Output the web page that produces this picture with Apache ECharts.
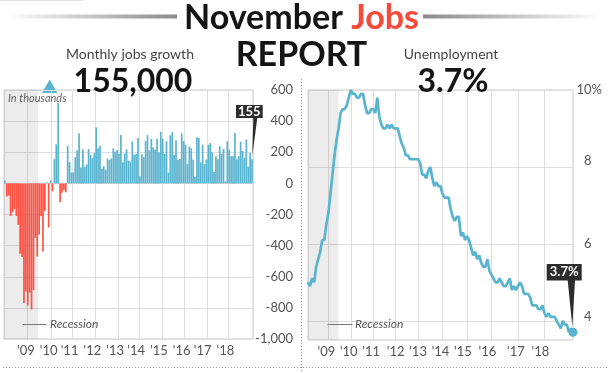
<!DOCTYPE html>
<html>
<head>
<meta charset="utf-8">
<script src="https://cdn.jsdelivr.net/npm/echarts@6/dist/echarts.min.js"></script>
<style>
html,body{margin:0;padding:0;background:#fff;}
#chart{width:608px;height:373px;}
</style>
</head>
<body>
<div id="chart"></div>
<script>
// ---------- DATA ----------
const monthNames = ['Jan','Feb','Mar','Apr','May','Jun','Jul','Aug','Sep','Oct','Nov','Dec'];
const startYear = 2008;
const endYear = 2018;
const endMonthIndex = 10; // Nov 2018

// Monthly change in nonfarm payrolls, thousands (Jan 2008 - Nov 2018)
const jobs2008 = [17, -84, -78, -210, -185, -165, -209, -266, -452, -473, -769, -695];
const jobs2009 = [-785, -703, -810, -686, -351, -470, -329, -212, -438, -178, 7, -283];
const jobs2010 = [18, -50, 156, 251, 516, -122, -61, -42, -57, 241, 137, 71];
const jobs2011 = [70, 168, 212, 322, 102, 217, 106, 122, 221, 183, 164, 196];
const jobs2012 = [360, 226, 243, 96, 110, 88, 160, 150, 161, 225, 203, 214];
const jobs2013 = [190, 311, 135, 192, 218, 146, 140, 269, 185, 189, 291, 45];
const jobs2014 = [187, 168, 272, 310, 213, 286, 232, 218, 286, 200, 331, 286];
const jobs2015 = [190, 271, 70, 309, 329, 182, 277, 150, 157, 321, 272, 249];
const jobs2016 = [126, 237, 225, 153, 43, 297, 291, 135, 249, 124, 154, 247];
const jobs2017 = [259, 200, 73, 175, 155, 239, 190, 221, 14, 271, 216, 175];
const jobs2018 = [176, 324, 155, 175, 268, 208, 165, 282, 108, 196, 155];

// Unemployment rate, percent (Jan 2008 - Nov 2018)
const unemp2008 = [5.0, 4.9, 5.1, 5.0, 5.4, 5.6, 5.8, 6.1, 6.1, 6.5, 6.8, 7.3];
const unemp2009 = [7.8, 8.3, 8.7, 9.0, 9.4, 9.5, 9.5, 9.6, 9.8, 10.0, 9.9, 9.9];
const unemp2010 = [9.8, 9.8, 9.9, 9.9, 9.6, 9.4, 9.4, 9.5, 9.5, 9.4, 9.8, 9.3];
const unemp2011 = [9.1, 9.0, 9.0, 9.1, 9.0, 9.1, 9.0, 9.0, 9.0, 8.8, 8.6, 8.5];
const unemp2012 = [8.3, 8.3, 8.2, 8.2, 8.2, 8.2, 8.2, 8.1, 7.8, 7.8, 7.7, 7.9];
const unemp2013 = [8.0, 7.7, 7.5, 7.6, 7.5, 7.5, 7.3, 7.2, 7.2, 7.2, 6.9, 6.7];
const unemp2014 = [6.6, 6.7, 6.7, 6.2, 6.3, 6.1, 6.2, 6.1, 5.9, 5.7, 5.8, 5.6];
const unemp2015 = [5.7, 5.5, 5.4, 5.4, 5.6, 5.3, 5.2, 5.1, 5.0, 5.0, 5.1, 5.0];
const unemp2016 = [4.9, 4.9, 5.0, 5.1, 4.8, 4.9, 4.8, 4.9, 5.0, 4.9, 4.7, 4.7];
const unemp2017 = [4.7, 4.6, 4.4, 4.4, 4.4, 4.3, 4.3, 4.4, 4.2, 4.1, 4.2, 4.1];
const unemp2018 = [4.1, 4.1, 4.0, 3.9, 3.8, 4.0, 3.9, 3.9, 3.7, 3.8, 3.7];

// Axis tick labels
const yearLabels = ["'09", "'10", "'11", "'12", "'13", "'14", "'15", "'16", "'17", "'18"];
const jobsTicks = [-1000, -800, -600, -400, -200, 0, 200, 400, 600];
const unempTicks = [4, 6, 8, 10];

// Recession period (as shaded in each panel)
const recessionJobs = ['Jan 2008', 'Jun 2009'];
const recessionUnemp = ['Jan 2008', 'Apr 2009'];

// ---------- BUILD ----------
const months = [];
for (let y = startYear; y <= endYear; y++) {
  for (let m = 0; m < 12; m++) {
    if (y === endYear && m > endMonthIndex) break;
    months.push(monthNames[m] + ' ' + y);
  }
}
const jobs = [].concat(jobs2008, jobs2009, jobs2010, jobs2011, jobs2012, jobs2013,
  jobs2014, jobs2015, jobs2016, jobs2017, jobs2018);
const unemp = [].concat(unemp2008, unemp2009, unemp2010, unemp2011, unemp2012, unemp2013,
  unemp2014, unemp2015, unemp2016, unemp2017, unemp2018);

const lastIdx = months.length - 1;
const lastJobs = jobs[jobs.length - 1];
const lastUnemp = unemp[unemp.length - 1];

// positions (category indices) of year grid lines and labels, as drawn in the graphic
const leftLineIdx = [12, 25, 36, 48, 60, 71, 83, 95, 107, 118];
const leftLabelIdx = [11, 23, 34, 46, 58, 69, 81, 93, 104, 116];
const rightLineIdx = [10, 21, 32, 43, 54, 66, 78, 90, 103, 116];
const rightLabelIdx = [9, 20, 31, 43, 54, 65, 76, 88, 102, 114];

const BLUE = '#5bb4cf';
const RED = '#ff5142';
const FONT = 'Lato, "Noto Sans", sans-serif';
const GRIDC = '#dedede';
const FRAMEC = '#c9c9c9';
const LABELC = '#555';

function fmtThousands(v) {
  const s = Math.abs(v).toString().replace(/\B(?=(\d{3})+(?!\d))/g, ',');
  return (v < 0 ? '-' : '') + s;
}

// vertical nudge (px, upward) of unemployment tick labels as placed in the graphic
const unempLabelLift = {4: 4, 6: 0, 8: 6, 10: 0};

function unempRichStyle(lift, transparent) {
  return {color: transparent ? 'rgba(0,0,0,0)' : LABELC, fontSize: 13, fontFamily: FONT,
    padding: [0, 0, lift * 2, 0]};
}

const chart = echarts.init(document.getElementById('chart'), null, {renderer: 'canvas'});

const bigText = {fontSize: 32, fontWeight: 'bold', fontFamily: FONT, color: '#141414'};
const subText = {fontSize: 14, fontWeight: 'normal', fontFamily: FONT, color: '#444'};

const option = {
  animation: false,
  backgroundColor: '#fff',
  textStyle: {fontFamily: FONT},
  title: [
    {text: 'Monthly jobs growth', left: 130, top: 47, textAlign: 'center', padding: 0, textStyle: subText},
    {text: (lastJobs * 1000).toLocaleString('en-US'), left: 133, top: 66, textAlign: 'center', padding: 0, textStyle: bigText},
    {text: 'Unemployment', left: 451, top: 47, textAlign: 'center', padding: 0, textStyle: subText},
    {text: lastUnemp.toFixed(1) + '%', left: 453, top: 66, textAlign: 'center', padding: 0, textStyle: bigText}
  ],
  grid: [
    {left: 4, right: 355, top: 90, bottom: 34, show: true, borderColor: FRAMEC, borderWidth: 1, backgroundColor: 'transparent'},
    {left: 308, right: 35, top: 90, bottom: 33, show: true, borderColor: FRAMEC, borderWidth: 1, backgroundColor: 'transparent'}
  ],
  xAxis: [
    {
      type: 'category', gridIndex: 0, data: months, boundaryGap: true,
      axisLine: {show: false}, axisTick: {show: false, interval: 0},
      axisLabel: {
        interval: (i) => leftLabelIdx.indexOf(i) >= 0,
        formatter: (v, i) => { const k = leftLabelIdx.indexOf(i); return k >= 0 ? yearLabels[k] : ''; },
        color: LABELC, fontSize: 13, fontFamily: FONT, margin: 5
      },
      splitLine: {show: true, interval: (i) => leftLineIdx.indexOf(i) >= 0, lineStyle: {color: GRIDC, width: 1}}
    },
    {
      type: 'category', gridIndex: 1, data: months, boundaryGap: false,
      axisLine: {show: false}, axisTick: {show: false, interval: 0},
      axisLabel: {
        interval: (i) => rightLabelIdx.indexOf(i) >= 0,
        formatter: (v, i) => { const k = rightLabelIdx.indexOf(i); return k >= 0 ? yearLabels[k] : ''; },
        color: LABELC, fontSize: 13, fontFamily: FONT, margin: 5
      },
      splitLine: {show: true, interval: (i) => rightLineIdx.indexOf(i) >= 0, lineStyle: {color: GRIDC, width: 1}}
    }
  ],
  yAxis: [
    {
      type: 'value', gridIndex: 0, position: 'right',
      min: jobsTicks[0], max: jobsTicks[jobsTicks.length - 1], interval: 200,
      axisLine: {show: false}, axisTick: {show: false},
      axisLabel: {color: LABELC, fontSize: 13, fontFamily: FONT, align: 'right', margin: 40, formatter: fmtThousands},
      splitLine: {show: true, lineStyle: {color: GRIDC, width: 1}}
    },
    {
      type: 'value', gridIndex: 1, position: 'right',
      min: 3.5, max: 10,
      axisLine: {show: false},
      axisTick: {show: false, customValues: unempTicks},
      axisLabel: {
        customValues: unempTicks,
        align: 'right', margin: 29,
        formatter: (v) => {
          const top = v === unempTicks[unempTicks.length - 1];
          return '{n' + v + '|' + v + '}{' + (top ? 'p' : 't') + v + '|%}';
        },
        rich: (function () {
          const r = {};
          unempTicks.forEach(function (t) {
            const lift = unempLabelLift[t] || 0;
            r['n' + t] = unempRichStyle(lift, false);
            r['p' + t] = unempRichStyle(lift, false);
            r['t' + t] = unempRichStyle(lift, true);
          });
          return r;
        })()
      },
      splitLine: {show: true, lineStyle: {color: GRIDC, width: 1}}
    }
  ],
  series: [
    {
      type: 'bar', xAxisIndex: 0, yAxisIndex: 0, data: jobs,
      barCategoryGap: '10%',
      itemStyle: {color: (p) => p.value < 0 ? RED : BLUE},
      markArea: {
        silent: true,
        itemStyle: {color: 'rgba(0,0,0,0.075)'},
        data: [[{xAxis: months.indexOf(recessionJobs[0])}, {xAxis: months.indexOf(recessionJobs[1])}]]
      },
      markPoint: {
        silent: true,
        data: [{
          coord: [lastIdx, lastJobs], value: lastJobs,
          symbol: 'path://M0,0H26.7V13H21.3L16.3,50.7L17.3,13H0Z',
          symbolSize: [26.7, 50.7], symbolKeepAspect: false,
          symbolOffset: [-2.7, -29],
          itemStyle: {color: '#2d2d2d'},
          label: {show: true, position: 'inside', offset: [0, -18.9], color: '#fff', fontSize: 13, fontWeight: 'bold', fontFamily: FONT, formatter: String(lastJobs)}
        }]
      }
    },
    {
      type: 'line', xAxisIndex: 1, yAxisIndex: 1, data: unemp,
      showSymbol: false, smooth: false,
      lineStyle: {color: BLUE, width: 2.7},
      itemStyle: {color: BLUE},
      markArea: {
        silent: true,
        itemStyle: {color: 'rgba(0,0,0,0.075)'},
        data: [[{xAxis: months.indexOf(recessionUnemp[0])}, {xAxis: months.indexOf(recessionUnemp[1])}]]
      },
      markPoint: {
        silent: true,
        data: [
          {
            coord: [lastIdx, lastUnemp], value: lastUnemp,
            symbol: 'path://M0,0H35V16.6H28.3L25.6,62.3L21,16.6H0Z',
            symbolSize: [35, 62.3], symbolKeepAspect: false,
            symbolOffset: [-8.8, -37.2],
            itemStyle: {color: '#2d2d2d'},
            label: {show: true, position: 'inside', offset: [0, -22.85], color: '#fff', fontSize: 13, fontWeight: 'bold', fontFamily: FONT, formatter: lastUnemp.toFixed(1) + '%'}
          },
          {
            coord: [lastIdx, lastUnemp], value: lastUnemp,
            symbol: 'circle', symbolSize: 9,
            itemStyle: {color: BLUE},
            label: {show: false}
          }
        ]
      }
    }
  ],
  graphic: [
    {type: 'rect', shape: {x: 0, y: 0, width: 83, height: 1}, style: {fill: '#e2e2e2'}, silent: true},
    {type: 'rect', shape: {x: 5, y: 14.5, width: 172, height: 4}, silent: true,
      style: {fill: new echarts.graphic.LinearGradient(0, 0, 1, 0, [{offset: 0, color: 'rgba(140,140,140,0)'}, {offset: 1, color: '#8a8a8a'}])}},
    {type: 'rect', shape: {x: 423, y: 14.5, width: 180, height: 4}, silent: true,
      style: {fill: new echarts.graphic.LinearGradient(0, 0, 1, 0, [{offset: 0, color: '#8a8a8a'}, {offset: 1, color: 'rgba(140,140,140,0)'}])}},
    {type: 'text', x: 301.5, y: 18, silent: true,
      style: {text: '{a|November }{b|Jobs}', align: 'center', verticalAlign: 'middle',
        rich: {a: {fill: '#141414', fontSize: 34, fontWeight: 'bold', fontFamily: FONT},
               b: {fill: '#f64a3b', fontSize: 34, fontWeight: 'bold', fontFamily: FONT}}}},
    {type: 'text', x: 301.5, y: 55, silent: true,
      style: {text: 'REPORT', align: 'center', verticalAlign: 'middle', fill: '#141414', fontSize: 34, fontWeight: 'bold', fontFamily: FONT}},
    {type: 'polygon', shape: {points: [[42, 93], [57.5, 93], [49.7, 79.5]]}, style: {fill: BLUE}, silent: true},
    {type: 'text', x: 8, y: 98.5, silent: true, z: 10,
      style: {text: 'In thousands', align: 'left', verticalAlign: 'middle', fill: '#666', fontSize: 11, fontStyle: 'italic', fontFamily: FONT}},
    {type: 'line', shape: {x1: 22.5, y1: 324.5, x2: 46.5, y2: 324.5}, style: {stroke: '#777', lineWidth: 1}, silent: true, z: 10},
    {type: 'text', x: 50, y: 324.5, silent: true, z: 10,
      style: {text: 'Recession', align: 'left', verticalAlign: 'middle', fill: '#555', fontSize: 12, fontStyle: 'italic', fontFamily: FONT}},
    {type: 'line', shape: {x1: 327.5, y1: 324.5, x2: 352.5, y2: 324.5}, style: {stroke: '#777', lineWidth: 1}, silent: true, z: 10},
    {type: 'text', x: 355, y: 324.5, silent: true, z: 10,
      style: {text: 'Recession', align: 'left', verticalAlign: 'middle', fill: '#555', fontSize: 12, fontStyle: 'italic', fontFamily: FONT}},
    {type: 'line', shape: {x1: 301.5, y1: 79, x2: 301.5, y2: 371}, style: {stroke: '#9a9a9a', lineWidth: 1, lineDash: [1, 2]}, silent: true},
    {type: 'line', shape: {x1: 3, y1: 367.5, x2: 608, y2: 367.5}, style: {stroke: '#9a9a9a', lineWidth: 1, lineDash: [1, 2]}, silent: true}
  ]
};
chart.setOption(option);
</script>
</body>
</html>
